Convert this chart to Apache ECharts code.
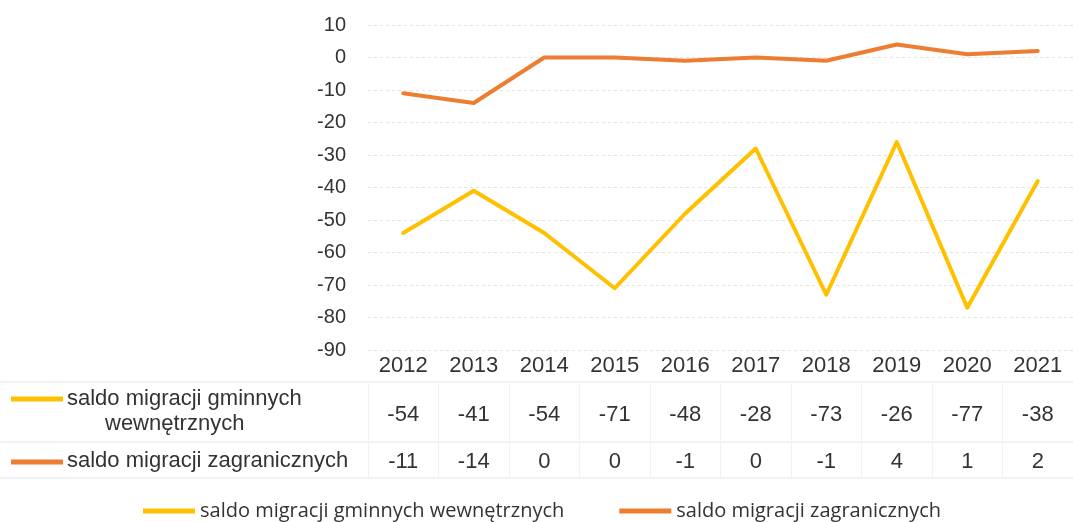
<!DOCTYPE html>
<html>
<head>
<meta charset="utf-8">
<script src="https://cdn.jsdelivr.net/npm/echarts@6/dist/echarts.min.js"></script>
<style>html,body{margin:0;padding:0;background:#fff}#c{width:1073px;height:522px}</style>
</head>
<body>
<div id="c"></div>
<script>
var years = ['2012','2013','2014','2015','2016','2017','2018','2019','2020','2021'];
var seriesNames = ['saldo migracji gminnych wewnętrznych', 'saldo migracji zagranicznych'];
var internalBalance = [-54, -41, -54, -71, -48, -28, -73, -26, -77, -38];
var foreignBalance = [-11, -14, 0, 0, -1, 0, -1, 4, 1, 2];
var yTicks = {min: -90, max: 10, interval: 10};

var colors = ['#FFC000', '#ED7D31'];
var txt = '#333333';
var fontMain = 'Liberation Sans, Arial, sans-serif';

var chart = echarts.init(document.getElementById('c'), null, {renderer: 'canvas'});

function rowAxis(values, offset) {
  return {
    type: 'category', gridIndex: 0, position: 'bottom', offset: offset,
    data: values.map(String),
    axisLine: {show: false}, axisTick: {show: false}, splitLine: {show: false},
    axisLabel: {interval: 0, margin: 5, fontSize: 22, color: txt, fontFamily: fontMain, lineHeight: 22}
  };
}

var option = {
  animation: false,
  backgroundColor: '#ffffff',
  grid: [
    {left: 368, top: 25, width: 715, height: 325},
    {left: 368, top: 382, width: 715, height: 96}
  ],
  xAxis: [
    {
      type: 'category', gridIndex: 0, data: years,
      axisLine: {show: false}, axisTick: {show: false}, splitLine: {show: false},
      axisLabel: {interval: 0, margin: 5, fontSize: 22, color: txt, fontFamily: fontMain, lineHeight: 22}
    },
    rowAxis(internalBalance, 49),
    rowAxis(foreignBalance, 96),
    {
      type: 'category', gridIndex: 1, data: years,
      axisLine: {show: false}, axisTick: {show: false}, axisLabel: {show: false},
      splitLine: {show: true, interval: 0, lineStyle: {color: '#f2f2f2', width: 1}}
    }
  ],
  yAxis: [
    {
      type: 'value', gridIndex: 0, min: yTicks.min, max: yTicks.max, interval: yTicks.interval,
      axisLine: {show: false}, axisTick: {show: false},
      axisLabel: {margin: 22, fontSize: 20, color: txt, fontFamily: fontMain},
      splitLine: {show: true, lineStyle: {color: '#e4e4e4', type: [3, 3], width: 1}}
    },
    {
      type: 'value', gridIndex: 1, show: false
    }
  ],
  legend: {
    top: 496, left: 138, itemWidth: 52, itemHeight: 5, itemGap: 55, icon: 'rect',
    textStyle: {fontSize: 20, color: txt, fontFamily: 'Open Sans, sans-serif'},
    data: seriesNames
  },
  graphic: [
    {type: 'line', shape: {x1: 0, y1: 382, x2: 1073, y2: 382}, style: {stroke: '#e4e4e4', lineWidth: 1}},
    {type: 'line', shape: {x1: 0, y1: 442, x2: 1073, y2: 442}, style: {stroke: '#e4e4e4', lineWidth: 1}},
    {type: 'line', shape: {x1: 0, y1: 478, x2: 1073, y2: 478}, style: {stroke: '#e4e4e4', lineWidth: 1}},
    {type: 'line', shape: {x1: 11, y1: 399, x2: 63, y2: 399}, style: {stroke: colors[0], lineWidth: 5}},
    {type: 'line', shape: {x1: 11, y1: 462, x2: 63, y2: 462}, style: {stroke: colors[1], lineWidth: 5}},
    {type: 'text', left: 67, top: 388, style: {text: 'saldo migracji gminnych', fontSize: 22, fill: txt, fontFamily: fontMain}},
    {type: 'text', left: 105, top: 413, style: {text: 'wewnętrznych', fontSize: 22, fill: txt, fontFamily: fontMain}},
    {type: 'text', left: 67, top: 450, style: {text: 'saldo migracji zagranicznych', fontSize: 22, fill: txt, fontFamily: fontMain}}
  ],
  series: [
    {
      name: seriesNames[0], type: 'line', xAxisIndex: 0, yAxisIndex: 0, data: internalBalance,
      showSymbol: false, symbol: 'none', color: colors[0],
      lineStyle: {width: 4, color: colors[0], join: 'round', cap: 'round'}
    },
    {
      name: seriesNames[1], type: 'line', xAxisIndex: 0, yAxisIndex: 0, data: foreignBalance,
      showSymbol: false, symbol: 'none', color: colors[1],
      lineStyle: {width: 4, color: colors[1], join: 'round', cap: 'round'}
    }
  ]
};
chart.setOption(option);
</script>
</body>
</html>
